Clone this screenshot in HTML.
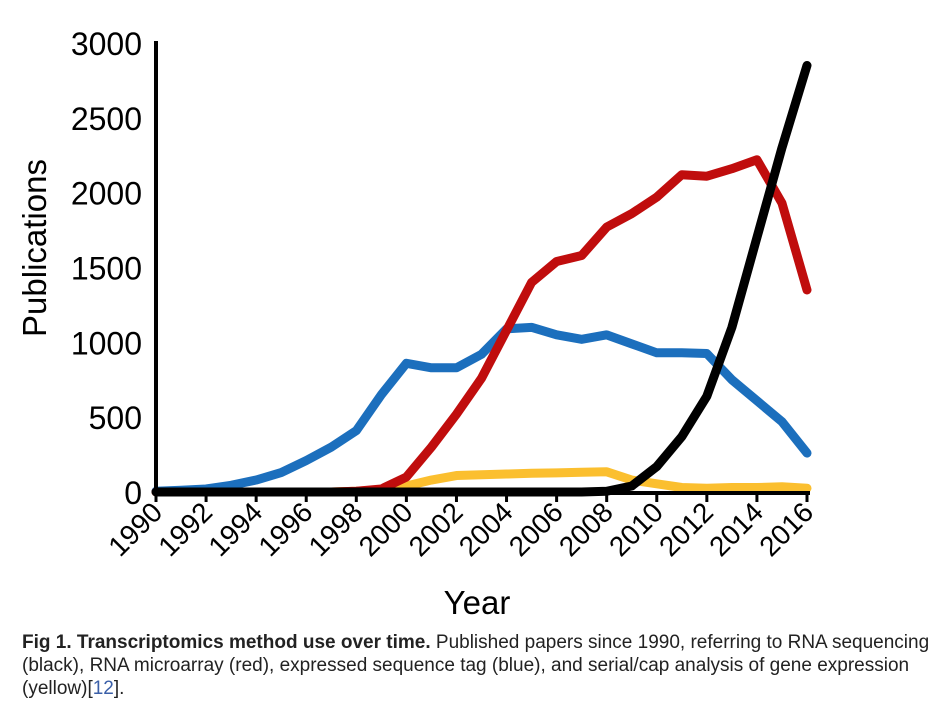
<!DOCTYPE html>
<html><head><meta charset="utf-8"><style>
body{margin:0;background:#fff;width:946px;height:703px;overflow:hidden;font-family:"Liberation Sans",sans-serif}
#cap{position:absolute;left:22px;top:631px;width:930px;font-size:19px;line-height:23px;color:#222;letter-spacing:0px;white-space:nowrap}
#cap a{color:#3a5fa8;text-decoration:none}
</style></head><body>
<svg id="chart" width="946" height="625" style="position:absolute;left:0;top:0"></svg>
<div id="cap"><b>Fig 1. Transcriptomics method use over time.</b> Published papers since 1990, referring to RNA sequencing<br>(black), RNA microarray (red), expressed sequence tag (blue), and serial/cap analysis of gene expression<br>(yellow)[<a>12</a>].</div>
<script>
const years=[1990,1991,1992,1993,1994,1995,1996,1997,1998,1999,2000,2001,2002,2003,2004,2005,2006,2007,2008,2009,2010,2011,2012,2013,2014,2015,2016];
const xTicks=[1990,1992,1994,1996,1998,2000,2002,2004,2006,2008,2010,2012,2014,2016];
const yTicks=[0,500,1000,1500,2000,2500,3000];
const sageValues=[0,0,0,0,0,0,0,0,5,15,40,80,110,115,120,125,128,132,135,80,55,30,25,30,30,35,25];
const estValues=[5,12,20,45,80,130,210,300,410,650,860,830,830,920,1090,1100,1050,1020,1050,990,930,930,925,750,610,470,260];
const microarrayValues=[0,0,0,0,0,0,0,0,5,20,100,300,520,760,1080,1400,1540,1580,1770,1860,1970,2120,2110,2160,2220,1930,1350];
const rnaseqValues=[0,0,0,0,0,0,0,0,0,0,0,0,0,0,0,0,0,0,5,40,170,370,640,1100,1700,2300,2850];
const svg=document.getElementById('chart');const NS='http://www.w3.org/2000/svg';
const X=v=>156+(v-1990)*(807-156)/26;
const Y=v=>492-v*(492-43)/3000;
function mk(t,a){const e=document.createElementNS(NS,t);for(const k in a)e.setAttribute(k,a[k]);svg.appendChild(e);return e;}
const series=[['sage-line',sageValues,'#fbbf2f'],['est-line',estValues,'#1c6fbd'],['microarray-line',microarrayValues,'#c00d0d'],['rnaseq-line',rnaseqValues,'#000']];
series.forEach(([n,vals,c])=>{
 const p=mk('polyline',{points:vals.map((v,i)=>X(years[i])+','+Y(v)).join(' '),fill:'none',stroke:c,'stroke-width':9,'stroke-linejoin':'round','stroke-linecap':'round'});
 
 
});
const ya=mk('line',{x1:156,y1:41,x2:156,y2:496,stroke:'#000','stroke-width':4});


const xa=mk('line',{x1:154,y1:493,x2:810,y2:493,stroke:'#000','stroke-width':4});


yTicks.forEach(v=>{
 const t=mk('text',{x:142,y:Y(v)+12,'text-anchor':'end','font-size':32,fill:'#000'});t.textContent=v;
 
 
});
xTicks.forEach(v=>{
 const tk=mk('line',{x1:X(v),y1:493,x2:X(v),y2:502,stroke:'#000','stroke-width':3});
 
 
 const t=mk('text',{x:X(v)+8,y:514,'text-anchor':'end','font-size':28,fill:'#000',transform:`rotate(-45 ${X(v)+8} 514)`});t.textContent=v;
 
 
});
const xt=mk('text',{x:477,y:614,'text-anchor':'middle','font-size':33,fill:'#000'});xt.textContent='Year';


const yt=mk('text',{x:46,y:248,'text-anchor':'middle','font-size':33,fill:'#000',transform:'rotate(-90 46 248)'});yt.textContent='Publications';


</script>
</body></html>
